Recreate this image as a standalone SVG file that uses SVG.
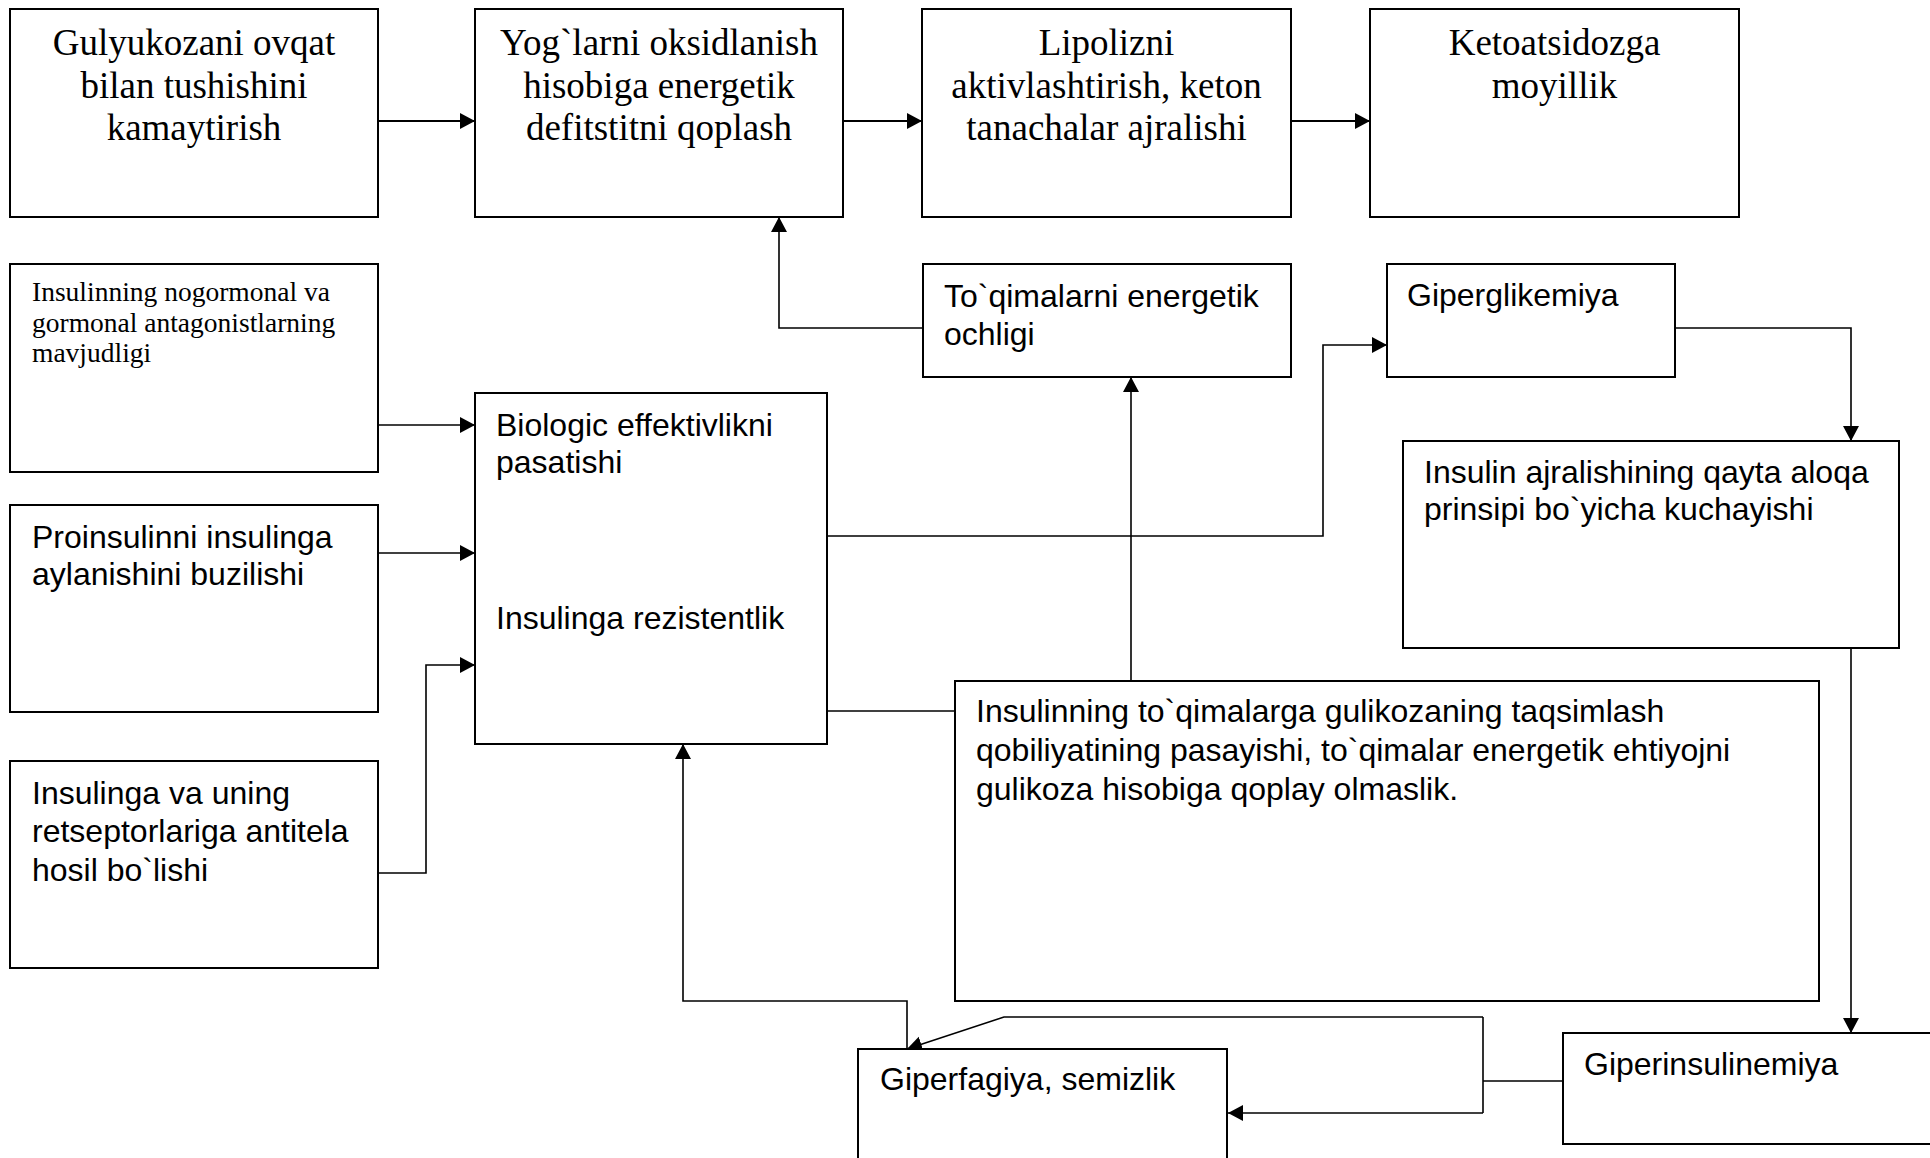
<svg xmlns="http://www.w3.org/2000/svg" width="1930" height="1158" viewBox="0 0 1930 1158">
<style>
.box{fill:#fff;stroke:#000;stroke-width:2}
.serif{font-family:"Liberation Serif","Times New Roman",serif;fill:#000}
.big{font-size:37px;text-anchor:middle}
.small{font-size:27.5px}
.sans{font-family:"Liberation Sans",Arial,sans-serif;font-size:32px;fill:#000}
.c{fill:none;stroke:#000;stroke-width:1.6}
.ca{fill:none;stroke:#000;stroke-width:1.6;marker-end:url(#ah)}
.cb{fill:none;stroke:#000;stroke-width:2.2;marker-end:url(#ah)}
</style>
<defs>
<marker id="ah" markerUnits="userSpaceOnUse" markerWidth="16" markerHeight="18" refX="15" refY="8" orient="auto">
<path d="M0,0 L15,8 L0,16 z" fill="#000"/>
</marker>
</defs>
<rect width="1930" height="1158" fill="#fff"/>
<g id="connectors">
<path class="cb" d="M378,121 H475"/>
<path class="cb" d="M843,121 H922"/>
<path class="cb" d="M1291,121 H1370"/>
<path class="ca" d="M923,328 H779 V217"/>
<path class="ca" d="M378,425 H475"/>
<path class="ca" d="M378,553 H475"/>
<path class="ca" d="M378,873 H426 V665 H475"/>
<path class="ca" d="M827,536 H1323 V345 H1387"/>
<path class="c" d="M827,711 H955"/>
<path class="ca" d="M1131,681 V377"/>
<path class="ca" d="M1675,328 H1851 V441"/>
<path class="ca" d="M1851,648 V1033"/>
<path class="c" d="M1563,1081 H1483 M1483,1017 V1113"/>
<path class="ca" d="M1483,1017 H1004 L907,1049"/>
<path class="ca" d="M1483,1113 H1228"/>
<path class="ca" d="M907,1049 V1001 H683 V744"/>
</g>
<g id="n1">
<rect class="box" x="10" y="9" width="368" height="208"/>
<text class="serif big"><tspan x="194" y="55">Gulyukozani ovqat</tspan><tspan x="194" y="97.5">bilan tushishini</tspan><tspan x="194" y="140">kamaytirish</tspan></text>
</g>
<g id="n2">
<rect class="box" x="475" y="9" width="368" height="208"/>
<text class="serif big"><tspan x="659" y="55">Yog`larni oksidlanish</tspan><tspan x="659" y="97.5">hisobiga energetik</tspan><tspan x="659" y="140">defitstitni qoplash</tspan></text>
</g>
<g id="n3">
<rect class="box" x="922" y="9" width="369" height="208"/>
<text class="serif big"><tspan x="1106.5" y="55">Lipolizni</tspan><tspan x="1106.5" y="97.5">aktivlashtirish, keton</tspan><tspan x="1106.5" y="140">tanachalar ajralishi</tspan></text>
</g>
<g id="n4">
<rect class="box" x="1370" y="9" width="369" height="208"/>
<text class="serif big"><tspan x="1554.5" y="55">Ketoatsidozga</tspan><tspan x="1554.5" y="97.5">moyillik</tspan></text>
</g>
<g id="n5">
<rect class="box" x="10" y="264" width="368" height="208"/>
<text class="serif small"><tspan x="32" y="301">Insulinning nogormonal va</tspan><tspan x="32" y="332">gormonal antagonistlarning</tspan><tspan x="32" y="362">mavjudligi</tspan></text>
</g>
<g id="n6">
<rect class="box" x="10" y="505" width="368" height="207"/>
<text class="sans"><tspan x="32" y="548">Proinsulinni insulinga</tspan><tspan x="32" y="585">aylanishini buzilishi</tspan></text>
</g>
<g id="n7">
<rect class="box" x="10" y="761" width="368" height="207"/>
<text class="sans"><tspan x="32" y="804">Insulinga va uning</tspan><tspan x="32" y="842">retseptorlariga antitela</tspan><tspan x="32" y="881">hosil bo`lishi</tspan></text>
</g>
<g id="n8">
<rect class="box" x="475" y="393" width="352" height="351"/>
<text class="sans"><tspan x="496" y="436">Biologic effektivlikni</tspan><tspan x="496" y="473">pasatishi</tspan><tspan x="496" y="629">Insulinga rezistentlik</tspan></text>
</g>
<g id="n9">
<rect class="box" x="923" y="264" width="368" height="113"/>
<text class="sans"><tspan x="944" y="307">To`qimalarni energetik</tspan><tspan x="944" y="345">ochligi</tspan></text>
</g>
<g id="n10">
<rect class="box" x="1387" y="264" width="288" height="113"/>
<text class="sans"><tspan x="1407" y="306">Giperglikemiya</tspan></text>
</g>
<g id="n11">
<rect class="box" x="1403" y="441" width="496" height="207"/>
<text class="sans"><tspan x="1424" y="483">Insulin ajralishining qayta aloqa</tspan><tspan x="1424" y="520">prinsipi bo`yicha kuchayishi</tspan></text>
</g>
<g id="n12">
<rect class="box" x="955" y="681" width="864" height="320"/>
<text class="sans"><tspan x="976" y="722">Insulinning to`qimalarga gulikozaning taqsimlash</tspan><tspan x="976" y="761">qobiliyatining pasayishi, to`qimalar energetik ehtiyojni</tspan><tspan x="976" y="800">gulikoza hisobiga qoplay olmaslik.</tspan></text>
</g>
<g id="n13">
<rect class="box" x="858" y="1049" width="369" height="120"/>
<text class="sans"><tspan x="880" y="1090">Giperfagiya, semizlik</tspan></text>
</g>
<g id="n14">
<rect class="box" x="1563" y="1033" width="380" height="111"/>
<text class="sans"><tspan x="1584" y="1075">Giperinsulinemiya</tspan></text>
</g>
</svg>
